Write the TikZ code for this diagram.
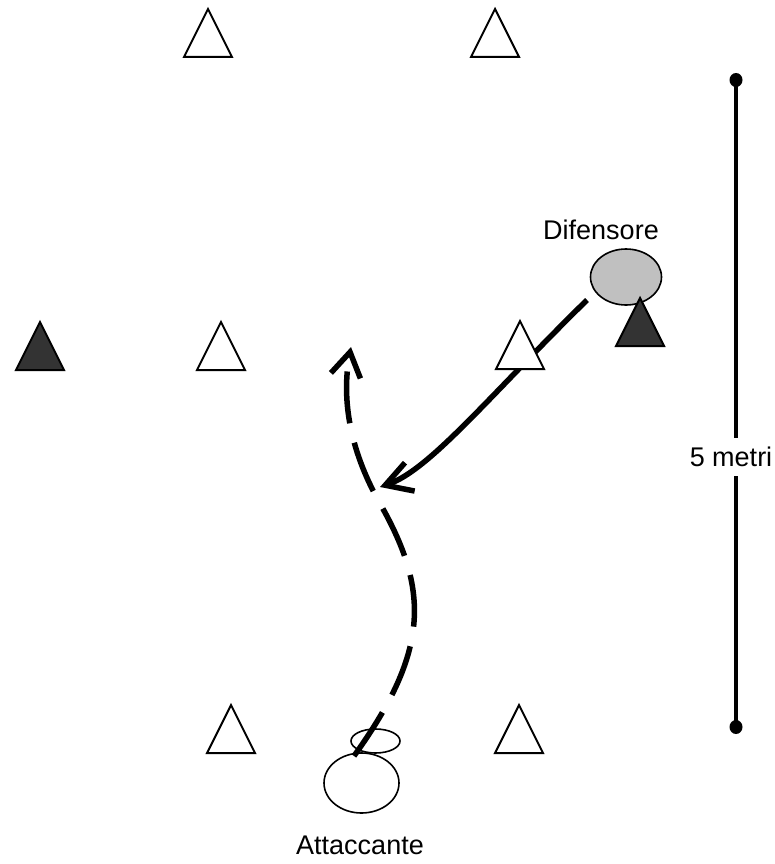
\documentclass[tikz,border=0pt]{standalone}
\usepackage{fontspec}
\setmainfont{Liberation Sans}
\usetikzlibrary{arrows.meta,shapes.geometric}
\definecolor{darkcone}{RGB}{51,51,51}
\definecolor{defgray}{RGB}{192,192,192}
\tikzset{
  cone/.pic={\path[pic actions] (-24,24) -- (24,24) -- (0,-24) -- cycle;},
  conewhite/.style={draw=black,fill=white,line width=2pt},
  conedark/.style={draw=black,fill=darkcone,line width=2pt},
  player/.style={ellipse,draw=black,line width=1.6pt,inner sep=0pt},
  lbl/.style={font=\fontsize{27}{31}\selectfont,inner sep=0pt},
  runpath/.style={line width=5.5pt,dash pattern=on 52pt off 20pt,-{Straight Barb[length=24pt,width=30pt,line width=5.5pt]}},
  passpath/.style={line width=5.5pt,-{Straight Barb[length=26pt,width=30pt,line width=5.5pt]}}
}
\begin{document}
\begin{tikzpicture}[x=1pt,y=-1pt]
\useasboundingbox (0,0) rectangle (774,864);
\fill[white] (0,0) rectangle (774,864);

% scale bar
\node[lbl,inner ysep=9pt] (metri) at (731,457) {5 metri};
\coordinate (bartop) at (736,80);
\coordinate (barbot) at (736,727);
\draw[line width=4pt] (bartop) -- (metri.north -| bartop);
\draw[line width=4pt] (metri.south -| barbot) -- (barbot);
\fill (bartop) ellipse (6.5pt and 7pt);
\fill (barbot) ellipse (6.5pt and 7pt);

% defender
\node[player,fill=defgray,minimum width=71pt,minimum height=56pt] (def) at (626,277) {};
\node[lbl] (deflbl) at (601,230) {Difensore};

% attacker
\node[player,fill=white,minimum width=49pt,minimum height=24pt] (ball) at (375.5,741) {};
\node[player,fill=white,minimum width=75pt,minimum height=60pt] (att) at (361.5,783) {};
\node[lbl] (attlbl) at (360,845) {Attaccante};

% pass arrow (solid)
\coordinate (s1) at (587,300);
\coordinate (e1) at (380,487);
\draw[passpath] (s1) .. controls (490,395) and (430,470) .. (e1);

% cones
\pic[conewhite] at (208,33) {cone};
\pic[conewhite] at (495,33) {cone};
\pic[conedark] at (40,346) {cone};
\pic[conewhite] at (221,346) {cone};
\pic[conewhite] at (520,345) {cone};
\pic[conedark] at (640,322) {cone};
\pic[conewhite] at (231,729) {cone};
\pic[conewhite] at (519,729) {cone};

% run (dashed)
\coordinate (s2) at (354,756);
\coordinate (m2) at (378,500);
\coordinate (e2) at (351,347);
\draw[runpath] (s2) .. controls (430,650) and (430,590) .. (m2) .. controls (345,440) and (343,390) .. (e2);
\end{tikzpicture}
\end{document}
